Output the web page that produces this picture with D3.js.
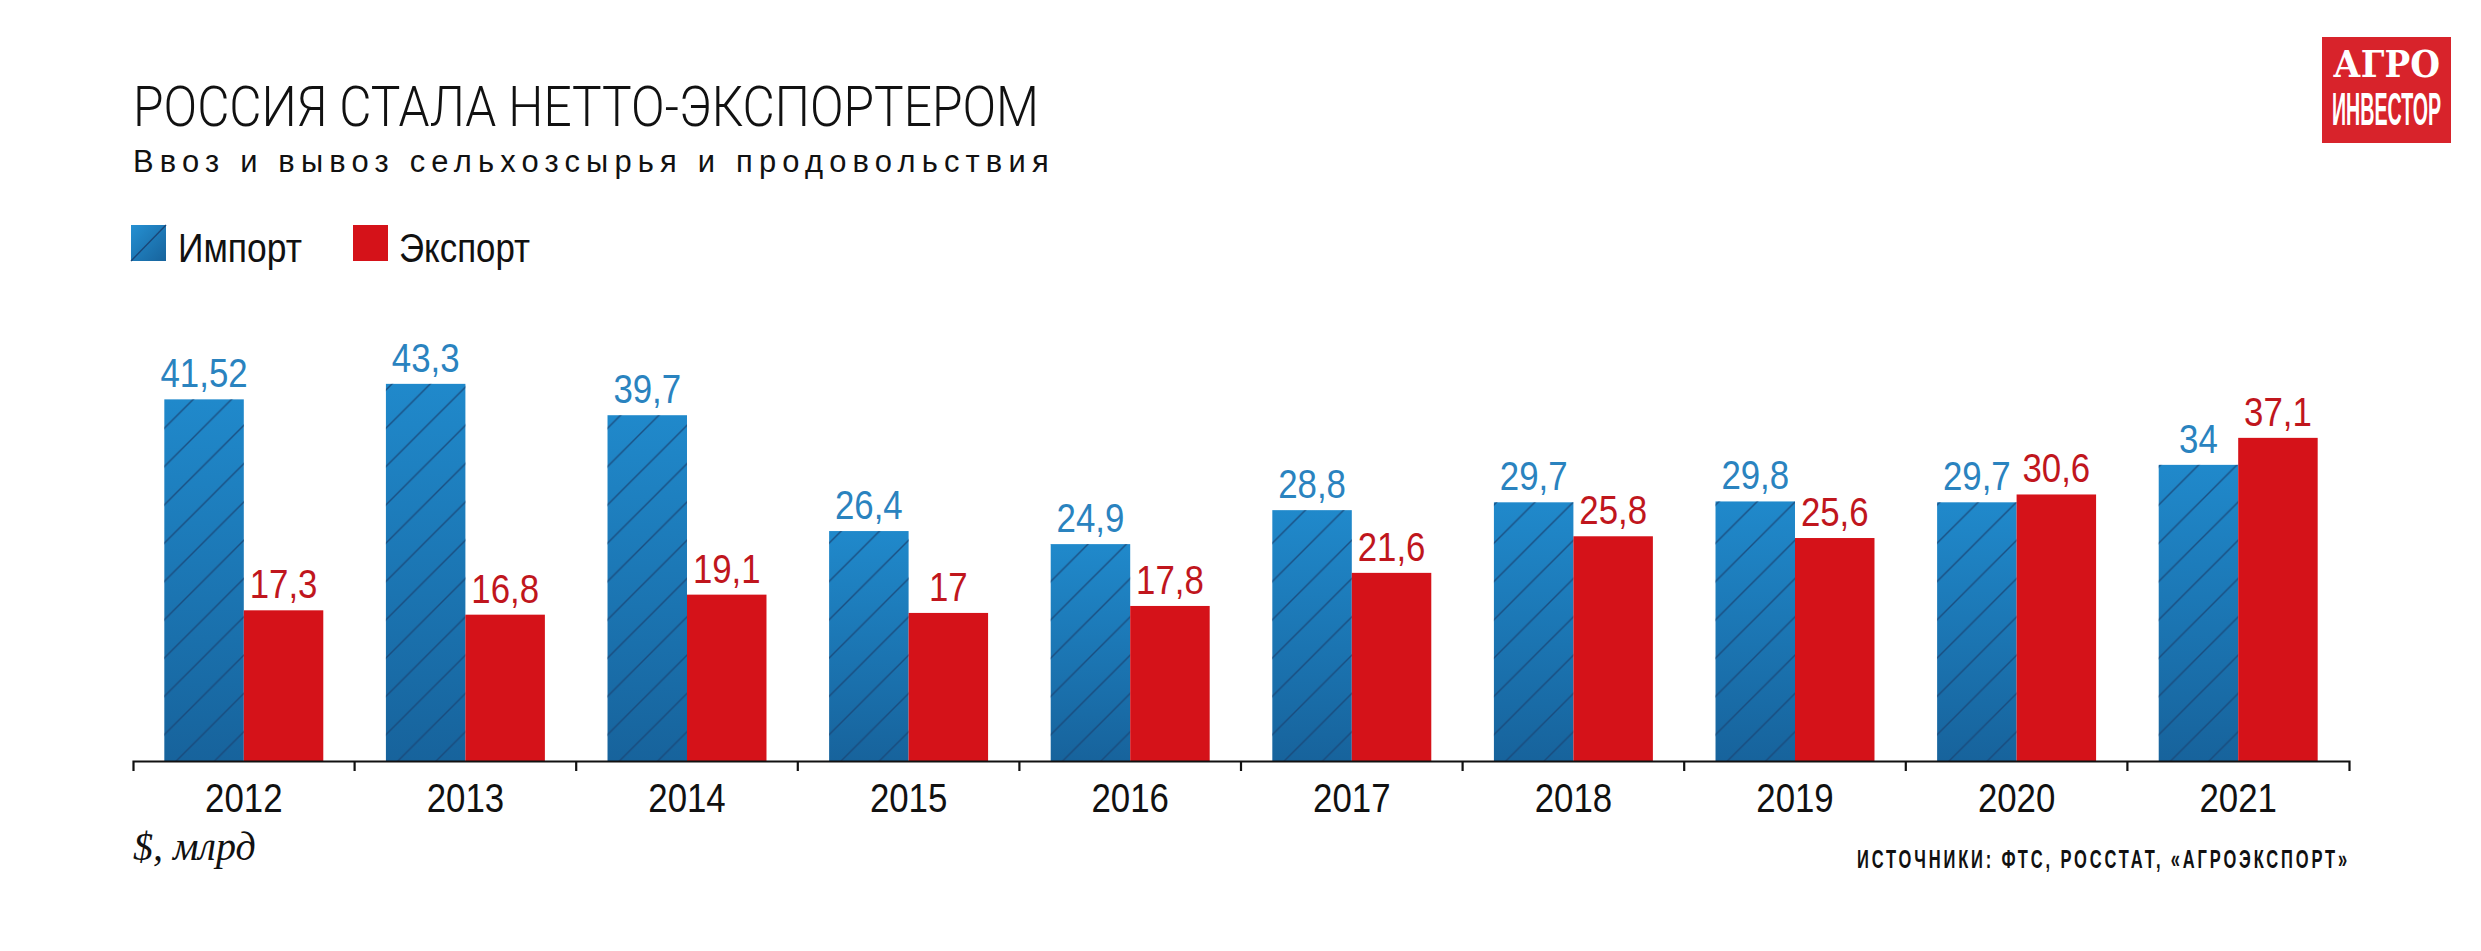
<!DOCTYPE html>
<html>
<head>
<meta charset="utf-8">
<script src="https://cdn.jsdelivr.net/npm/d3@7"></script>
<style>
  html, body { margin: 0; padding: 0; background: #fff; }
  svg { display: block; }
</style>
</head>
<body>
<svg id="chart" width="2481" height="951"></svg>
<script>
const years = ["2012", "2013", "2014", "2015", "2016", "2017", "2018", "2019", "2020", "2021"];
const importValues = [41.52, 43.3, 39.7, 26.4, 24.9, 28.8, 29.7, 29.8, 29.7, 34];
const exportValues = [17.3, 16.8, 19.1, 17, 17.8, 21.6, 25.8, 25.6, 30.6, 37.1];
const seriesNames = ["Импорт", "Экспорт"];
const titleText = "РОССИЯ СТАЛА НЕТТО-ЭКСПОРТЕРОМ";
const subtitleText = "Ввоз и вывоз сельхозсырья и продовольствия";
const unitText = "$, млрд";
const sourceText = "ИСТОЧНИКИ: ФТС, РОССТАТ, «АГРОЭКСПОРТ»";

const fmt = v => String(v).replace(".", ",");
const SANS = "'Liberation Sans', Arial, sans-serif";
const SX = 0.87; // horizontal condensing of the sans labels

const svg = d3.select("#chart");
const W = 2481, H = 951;
svg.append("rect").attr("width", W).attr("height", H).attr("fill", "#fff");

// helper: condensed text via horizontal scaling in a wrapper group
function condText(parent, x, y, str, size, opts = {}) {
  const g = parent.append("g").attr("transform", `translate(${x},${y}) scale(${opts.sx || SX},1)`);
  const t = g.append("text").attr("x", 0).attr("y", 0)
    .attr("font-family", opts.family || SANS)
    .attr("font-size", size)
    .attr("font-weight", opts.weight || "normal")
    .attr("fill", opts.fill || "#111")
    .attr("text-anchor", opts.anchor || "start")
    .text(str);
  if (opts.ls) t.attr("letter-spacing", opts.ls);
  if (opts.width) {
    const nat = t.node().getComputedTextLength();
    const s = opts.width / nat;
    g.attr("transform", `translate(${x},${y}) scale(${s},1)`);
  }
  return g;
}

const defs = svg.append("defs");
const grad = defs.append("linearGradient").attr("id", "blueGrad")
  .attr("x1", 0).attr("y1", 0).attr("x2", 0).attr("y2", 1);
grad.append("stop").attr("offset", "0%").attr("stop-color", "#2089cb");
grad.append("stop").attr("offset", "100%").attr("stop-color", "#17639c");

const gradL = defs.append("linearGradient").attr("id", "blueGradL")
  .attr("x1", 0).attr("y1", 0).attr("x2", 1).attr("y2", 1);
gradL.append("stop").attr("offset", "0%").attr("stop-color", "#2590d2");
gradL.append("stop").attr("offset", "100%").attr("stop-color", "#17639c");

const hs = 38.3;
const pat = defs.append("pattern").attr("id", "hatch")
  .attr("patternUnits", "userSpaceOnUse").attr("width", hs).attr("height", hs);
pat.append("path")
  .attr("d", `M0,${hs} L${hs},0 M${-hs/2},${hs/2} L${hs/2},${-hs/2} M${hs/2},${hs*1.5} L${hs*1.5},${hs/2}`)
  .attr("stroke", "#1a4677").attr("stroke-width", 1.4).attr("stroke-opacity", 0.85);

// scales
const baseY = 761;
const x = d3.scaleBand().domain(years).range([133, 2349]).paddingInner(0).paddingOuter(0);
const xs = d3.scaleBand().domain(["imp", "exp"]).range([0, x.bandwidth()]).paddingInner(0).paddingOuter(0.394);
const y = d3.scaleLinear().domain([0, 50]).range([baseY, baseY - 435.5]);

const data = years.map((yr, i) => ({ yr, imp: importValues[i], exp: exportValues[i] }));

const g = svg.append("g");
const grp = g.selectAll("g.year").data(data).join("g").attr("class", "year")
  .attr("transform", d => `translate(${x(d.yr)},0)`);

grp.append("rect")
  .attr("x", xs("imp")).attr("width", xs.bandwidth())
  .attr("y", d => y(d.imp)).attr("height", d => y(0) - y(d.imp))
  .attr("fill", "url(#blueGrad)");
grp.append("rect")
  .attr("x", xs("imp")).attr("width", xs.bandwidth())
  .attr("y", d => y(d.imp)).attr("height", d => y(0) - y(d.imp))
  .attr("fill", "url(#hatch)");
grp.append("rect")
  .attr("x", xs("exp")).attr("width", xs.bandwidth())
  .attr("y", d => y(d.exp)).attr("height", d => y(0) - y(d.exp))
  .attr("fill", "#d51219");

// value labels
grp.each(function(d) {
  const sel = d3.select(this);
  condText(sel, xs("imp") + xs.bandwidth() / 2, y(d.imp) - 12, fmt(d.imp), 40, { anchor: "middle", fill: "#2a83bf" });
  condText(sel, xs("exp") + xs.bandwidth() / 2, y(d.exp) - 12, fmt(d.exp), 40, { anchor: "middle", fill: "#c0161d" });
});

// axis
const axis = d3.axisBottom(x).tickSize(0).tickSizeOuter(10).tickPadding(0).tickFormat("");
const ax = svg.append("g").attr("transform", `translate(0,${baseY})`).call(axis);
ax.select(".domain").attr("stroke", "#111").attr("stroke-width", 2.2);
ax.selectAll(".tick text").remove();
ax.selectAll(".tick line").remove();
ax.append("g").selectAll("line").data(years.slice(1)).join("line")
  .attr("x1", d => x(d)).attr("x2", d => x(d)).attr("y1", 0).attr("y2", 10)
  .attr("stroke", "#111").attr("stroke-width", 2.2);
ax.selectAll(".tick").each(function(d) {
  condText(d3.select(this), 0, 51, d, 40, { anchor: "middle", fill: "#111" });
});

// title
svg.append("text").attr("x", 133).attr("y", 126)
  .attr("font-family", "Roboto, 'Liberation Sans', sans-serif").attr("font-weight", 300)
  .attr("font-size", 56).attr("fill", "#111")
  .attr("textLength", 906).attr("lengthAdjust", "spacingAndGlyphs")
  .text(titleText);
// subtitle: narrow glyphs, wide tracking
condText(svg, 133, 172, subtitleText, 31, { ls: 6.2, width: 922 });

// legend
const lg = svg.append("g");
lg.append("rect").attr("x", 131).attr("y", 225).attr("width", 35).attr("height", 36).attr("fill", "url(#blueGradL)");
lg.append("line").attr("x1", 131).attr("y1", 261).attr("x2", 166).attr("y2", 225)
  .attr("stroke", "#1a4677").attr("stroke-width", 1.4);
condText(lg, 178, 262, seriesNames[0], 40, { width: 124 });
lg.append("rect").attr("x", 353).attr("y", 225).attr("width", 35).attr("height", 36).attr("fill", "#d51219");
condText(lg, 399, 262, seriesNames[1], 40, { width: 131 });

// unit
svg.append("text").attr("x", 133).attr("y", 860)
  .attr("font-family", "'Liberation Serif', 'DejaVu Serif', serif").attr("font-style", "italic")
  .attr("font-size", 40).attr("fill", "#111").text(unitText);

// source
condText(svg, 1857, 868, sourceText, 26, { weight: "bold", ls: 4.5, width: 493 });

// logo
const logo = svg.append("g");
logo.append("rect").attr("x", 2322).attr("y", 37).attr("width", 129).attr("height", 106).attr("fill", "#d8232b");
condText(logo, 2333, 77, "АГРО", 37, { family: "'DejaVu Serif', 'Liberation Serif', serif", weight: "bold", fill: "#fff", width: 107 });
condText(logo, 2332, 125, "ИНВЕСТОР", 47, { weight: "bold", fill: "#fff", width: 109 });
</script>
</body>
</html>
